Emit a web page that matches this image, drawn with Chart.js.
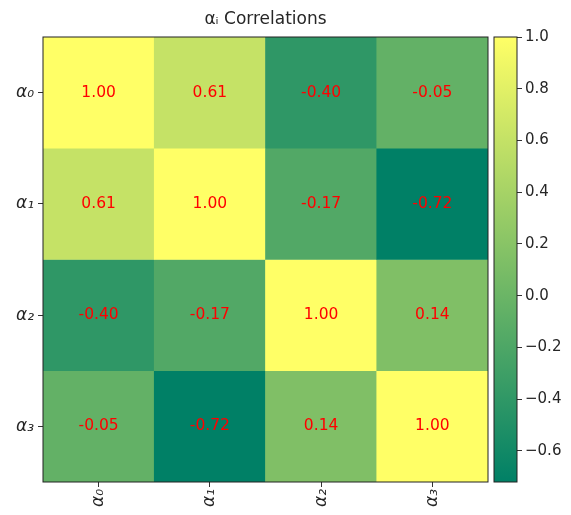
<!DOCTYPE html>
<html>
<head>
<meta charset="utf-8">
<script src="https://cdn.jsdelivr.net/npm/chart.js@4"></script>
<style>
html, body { margin: 0; padding: 0; background: #fff; }
#wrap { position: relative; width: 571px; height: 515px; }
canvas { position: absolute; top: 0; }
</style>
</head>
<body>
<div id="wrap">
	<canvas id="heat" width="571" height="515" style="left:0"></canvas>
	<canvas id="cbar" width="83" height="515" style="left:488px"></canvas>
</div>
<script>
// alpha_i labels, same for rows and columns
const labels = ['α₀', 'α₁', 'α₂', 'α₃'];

// correlation matrix, one array per row
const row0 = [1.00, 0.61, -0.40, -0.05];
const row1 = [0.61, 1.00, -0.17, -0.72];
const row2 = [-0.40, -0.17, 1.00, 0.14];
const row3 = [-0.05, -0.72, 0.14, 1.00];
const corr = [row0, row1, row2, row3];

// colour range and colorbar ticks
const vmin = -0.72;
const vmax = 1.0;
const cbarTicks = [-0.6, -0.4, -0.2, 0.0, 0.2, 0.4, 0.6, 0.8, 1.0];

const FONT = '"DejaVu Sans", sans-serif';
const TEXT = '#262626';

// matplotlib "summer" colormap
function colorOf(v) {
	let t = (v - vmin) / (vmax - vmin);
	t = Math.max(0, Math.min(1, t));
	const r = Math.round(255 * t);
	const g = Math.round(255 * (0.5 + 0.5 * t));
	const b = Math.round(255 * 0.4);
	return 'rgb(' + r + ',' + g + ',' + b + ')';
}

const framePlugin = {
	id: 'frame',
	afterDraw(chart) {
		const a = chart.chartArea;
		const ctx = chart.ctx;
		ctx.save();
		ctx.strokeStyle = '#222';
		ctx.lineWidth = 1;
		ctx.strokeRect(a.left, a.top, a.right - a.left, a.bottom - a.top);
		ctx.restore();
	}
};

const cellText = {
	id: 'cellText',
	afterDatasetsDraw(chart) {
		const ctx = chart.ctx;
		ctx.save();
		ctx.fillStyle = '#ff0000';
		ctx.font = '15.5px ' + FONT;
		ctx.textAlign = 'center';
		ctx.textBaseline = 'middle';
		corr.forEach(function (row, i) {
			const meta = chart.getDatasetMeta(i);
			row.forEach(function (v, j) {
				const el = meta.data[j];
				ctx.fillText(v.toFixed(2), el.x, (el.y + el.base) / 2);
			});
		});
		ctx.restore();
	}
};

// each row is one stacked dataset, one unit tall
const datasets = corr.map(function (row, i) {
	return {
		label: labels[i],
		data: row.map(function () { return 1; }),
		backgroundColor: row.map(colorOf),
		borderWidth: 0,
		barPercentage: 1,
		categoryPercentage: 1
	};
});

new Chart(document.getElementById('heat'), {
	type: 'bar',
	data: { labels: labels, datasets: datasets },
	plugins: [cellText, framePlugin],
	options: {
		responsive: false,
		animation: false,
		layout: { padding: { left: 0, right: 83, top: 0, bottom: 0 } },
		plugins: {
			legend: { display: false },
			tooltip: { enabled: false },
			title: {
				display: true,
				fullSize: false,
				text: 'αᵢ Correlations',
				color: TEXT,
				font: { family: FONT, size: 17, weight: 'normal', lineHeight: 1.2 },
				padding: { top: 9, bottom: 7.6 }
			}
		},
		scales: {
			x: {
				stacked: true,
				grid: { display: true, drawOnChartArea: false, offset: false, tickLength: 5, color: '#333' },
				border: { display: false },
				ticks: { color: TEXT, font: { family: FONT, size: 17, style: 'italic' }, minRotation: 90, maxRotation: 90, padding: 2 },
				afterFit: function (s) { s.height = 33; }
			},
			y: {
				type: 'linear',
				stacked: true,
				reverse: true,
				min: 0,
				max: 4,
				grid: { display: true, drawOnChartArea: false, tickLength: 5, color: '#333' },
				border: { display: false },
				afterBuildTicks: function (s) {
					s.ticks = labels.map(function (l, i) { return { value: i + 0.5 }; });
				},
				ticks: {
					color: TEXT,
					font: { family: FONT, size: 17, style: 'italic' },
					padding: 4,
					callback: function (v) { return labels[Math.floor(v)]; }
				},
				afterFit: function (s) { s.width = 43; }
			}
		}
	}
});

// colorbar: a single floating bar spanning the colour range
new Chart(document.getElementById('cbar'), {
	type: 'bar',
	data: {
		labels: [''],
		datasets: [{
			data: [[vmin, vmax]],
			backgroundColor: function (c) {
				const ch = c.chart;
				if (!ch.chartArea) return colorOf(vmax);
				const y = ch.scales.y;
				const g = ch.ctx.createLinearGradient(0, y.getPixelForValue(vmin), 0, y.getPixelForValue(vmax));
				g.addColorStop(0, colorOf(vmin));
				g.addColorStop(1, colorOf(vmax));
				return g;
			},
			borderWidth: 0,
			barPercentage: 1,
			categoryPercentage: 1
		}]
	},
	plugins: [framePlugin],
	options: {
		responsive: false,
		animation: false,
		layout: { padding: { left: 6, right: 0, top: 37, bottom: 33 } },
		plugins: { legend: { display: false }, tooltip: { enabled: false } },
		scales: {
			x: { display: false },
			y: {
				position: 'right',
				min: vmin,
				max: vmax,
				grid: { display: true, drawOnChartArea: false, tickLength: 5, color: '#333' },
				border: { display: false },
				afterBuildTicks: function (s) {
					s.ticks = cbarTicks.map(function (v) { return { value: v }; });
				},
				ticks: {
					color: TEXT,
					font: { family: FONT, size: 15 },
					padding: 3,
					callback: function (v) { return v.toFixed(1).replace('-', '\u2212'); }
				},
				afterFit: function (s) { s.width = 54; }
			}
		}
	}
});
</script>
</body>
</html>
